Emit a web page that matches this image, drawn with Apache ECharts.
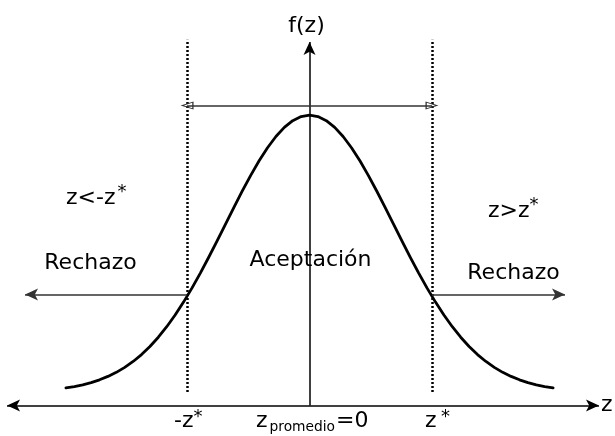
<!DOCTYPE html>
<html>
<head>
<meta charset="utf-8">
<style>
  html, body { margin: 0; padding: 0; background: #fff; }
  #chart { width: 615px; height: 436px; }
</style>
<script src="https://cdn.jsdelivr.net/npm/echarts@6/dist/echarts.min.js"></script>
</head>
<body>
<div id="chart"></div>
<script>
// curve f(z)
const zCurve = [-2.9, -2.8, -2.7, -2.6, -2.5, -2.4, -2.3, -2.2, -2.1, -2.0, -1.9, -1.8, -1.7, -1.6, -1.5,
    -1.4, -1.3, -1.2, -1.1, -1.0, -0.9, -0.8, -0.7, -0.6, -0.5, -0.4, -0.3, -0.2, -0.1, 0,
    0.1, 0.2, 0.3, 0.4, 0.5, 0.6, 0.7, 0.8, 0.9, 1.0, 1.1, 1.2, 1.3, 1.4, 1.5,
    1.6, 1.7, 1.8, 1.9, 2.0, 2.1, 2.2, 2.3, 2.4, 2.5, 2.6, 2.7, 2.8, 2.9];
const fCurve = [0.0060, 0.0079, 0.0104, 0.0136, 0.0176, 0.0225, 0.0284, 0.0356, 0.0441, 0.0541, 0.0658, 0.0792, 0.0943, 0.1112, 0.1299,
    0.1501, 0.1718, 0.1947, 0.2184, 0.2426, 0.2668, 0.2905, 0.3131, 0.3341, 0.3530, 0.3692, 0.3824, 0.3921, 0.3980, 0.4000,
    0.3980, 0.3921, 0.3824, 0.3692, 0.3530, 0.3341, 0.3131, 0.2905, 0.2668, 0.2426, 0.2184, 0.1947, 0.1718, 0.1501, 0.1299,
    0.1112, 0.0943, 0.0792, 0.0658, 0.0541, 0.0441, 0.0356, 0.0284, 0.0225, 0.0176, 0.0136, 0.0104, 0.0079, 0.0060];

// critical value and guide lines (data units)
const zStar = 1.458;
const zAxisEnds = [-3.601, 3.446];
const zAxisLevel = -0.0195;
const fAxisTop = 0.5058;
const dottedTop = 0.509;
const acceptLevel = 0.414;
const rejectLevel = 0.1409;
const rejectEnds = [-3.387, 3.042];

const FONT = '"DejaVu Sans", Verdana, sans-serif';

const chart = echarts.init(document.getElementById('chart'));

function seg(a, b, s0, s1, style) {
    return [
        {coord: a, symbol: s0, lineStyle: style},
        {coord: b, symbol: s1, lineStyle: style},
    ];
}

function guides(size, data) {
    return {
        type: 'line',
        data: [],
        silent: true,
        markLine: {
            silent: true,
            animation: false,
            symbolSize: size,
            label: {show: false},
            emphasis: {disabled: true},
            data: data,
        },
    };
}

const axisStyle = {color: '#000', width: 1.5, type: 'solid'};
const arrowStyle = {color: '#333', width: 1.5, type: 'solid'};
const dotStyle = {color: '#000', width: 2.5, type: [2, 2]};
const openTri = 'path://M5,0L10,10L0,10Z M5,2.6L1.6,9L8.4,9Z';

function txt(text, x, y, size, align) {
    return {
        type: 'text', x: x, y: y, silent: true,
        style: {
            text: text, font: size + 'px ' + FONT, fill: '#000',
            align: align || 'left', verticalAlign: 'middle',
            textAlign: align || 'left', textVerticalAlign: 'middle',
        },
    };
}

chart.setOption({
    animation: false,
    backgroundColor: '#fff',
    grid: {left: 0, right: 0, top: 0, bottom: 0},
    xAxis: {type: 'value', min: -3.685, max: 3.637, show: false},
    yAxis: {type: 'value', min: -0.0636, max: 0.5665, show: false},
    series: [
        guides([9, 13], [
            seg([zAxisEnds[0], zAxisLevel], [zAxisEnds[1], zAxisLevel], 'arrow', 'arrow', axisStyle),
            seg([0, zAxisLevel], [0, fAxisTop], 'none', 'arrow', axisStyle),
            seg([-zStar, 0], [-zStar, dottedTop], 'none', 'none', dotStyle),
            seg([zStar, 0], [zStar, dottedTop], 'none', 'none', dotStyle),
            seg([-zStar, rejectLevel], [rejectEnds[0], rejectLevel], 'none', 'arrow', arrowStyle),
            seg([zStar, rejectLevel], [rejectEnds[1], rejectLevel], 'none', 'arrow', arrowStyle),
        ]),
        guides([8, 13], [
            seg([-zStar, acceptLevel], [zStar, acceptLevel], openTri, openTri, arrowStyle),
        ]),
        {
            type: 'line',
            data: zCurve.map((z, i) => [z, fCurve[i]]),
            smooth: false,
            showSymbol: false,
            silent: true,
            lineStyle: {color: '#000', width: 2.8, cap: 'round', join: 'round'},
            z: 3,
        },
    ],
    graphic: [
        txt('f(z)', 306.5, 26, 22, 'center'),
        txt('z', 601, 405, 22),
        txt('Aceptación', 310.5, 260, 22, 'center'),
        txt('Rechazo', 90.5, 263, 22, 'center'),
        txt('Rechazo', 513.5, 273, 22, 'center'),
        txt('z<-z', 66, 198, 22),
        txt('*', 122, 192, 18, 'center'),
        txt('z>z', 488, 211, 22),
        txt('*', 534, 205, 18, 'center'),
        txt('-z', 174, 421, 22),
        txt('*', 198, 417, 18, 'center'),
        txt('z', 256, 421, 22),
        txt('promedio', 269.5, 427, 13.8),
        txt('=0', 336, 421, 22),
        txt('z', 425, 421, 22),
        txt('*', 445.5, 417, 18, 'center'),
    ],
});
</script>
</body>
</html>
